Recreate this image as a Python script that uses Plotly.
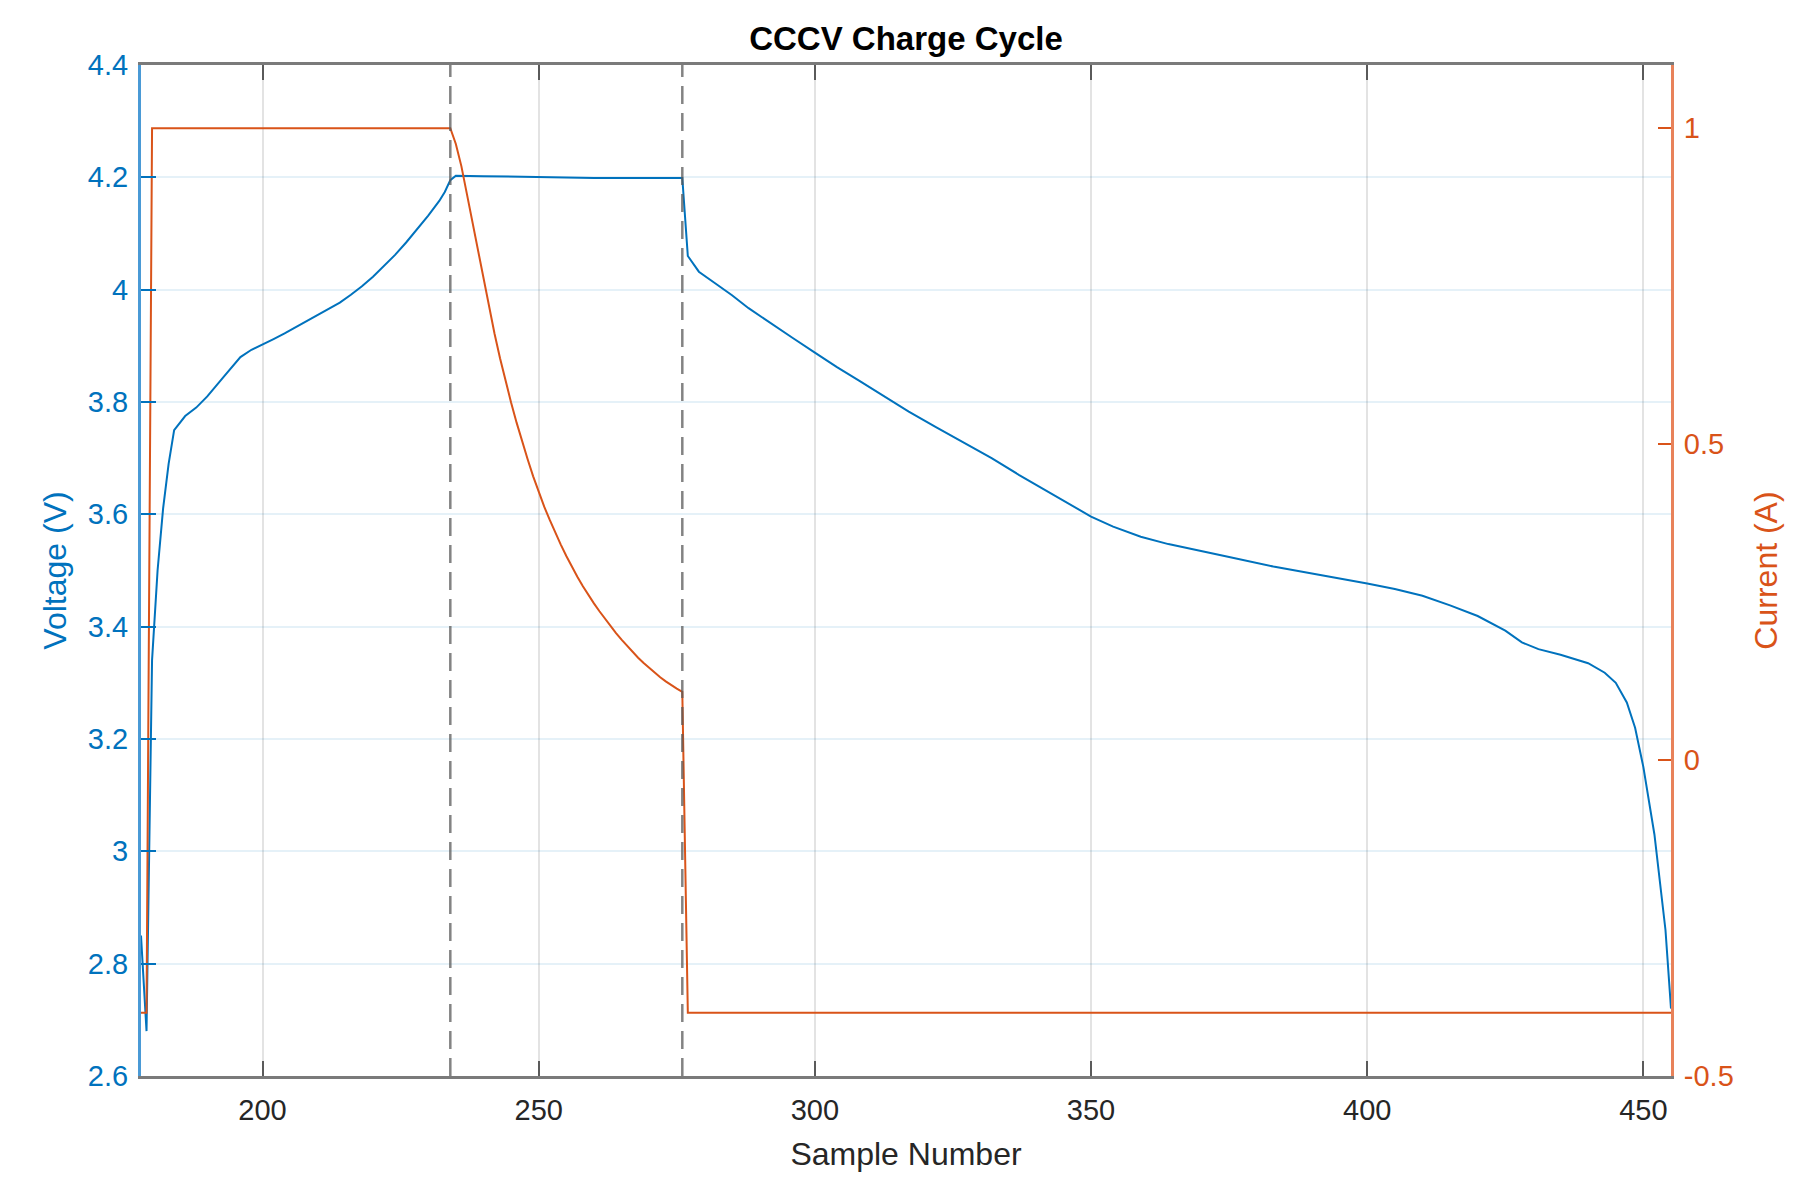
import plotly.graph_objects as go

# ---- data ----
voltage_sample = [178, 179, 180, 181, 182, 183, 184, 186, 188, 190, 193, 196, 198, 200, 202, 204,
                  206, 208, 210, 212, 214, 216, 218, 220, 222, 224, 226, 228, 230, 232, 233, 234,
                  235, 240, 245, 250, 260, 270, 276,
                  277, 279, 282, 285, 288, 292, 296, 300, 304, 308, 312, 317, 322, 327, 332, 337,
                  342, 347, 350, 354, 359, 364, 369, 375, 383, 390, 400, 405, 410, 415, 420, 425,
                  428, 431, 435, 440, 443, 445, 447, 448.5, 450, 452, 454, 455]
voltage_v = [2.85, 2.68, 3.34, 3.50, 3.61, 3.69, 3.75, 3.775, 3.79, 3.81, 3.845, 3.88, 3.893, 3.902,
             3.912, 3.922, 3.933, 3.943, 3.954, 3.965, 3.977, 3.991, 4.006, 4.023, 4.042, 4.062,
             4.084, 4.107, 4.132, 4.158, 4.174, 4.195,
             4.203, 4.202, 4.201, 4.2, 4.199, 4.199, 4.199,
             4.06, 4.032, 4.011, 3.99, 3.967, 3.94, 3.914, 3.888,
             3.862, 3.838, 3.813, 3.783, 3.755, 3.727, 3.70, 3.67, 3.642, 3.613, 3.596, 3.578, 3.560,
             3.547, 3.536, 3.524, 3.507, 3.495, 3.477, 3.467, 3.455, 3.438, 3.419, 3.393, 3.372, 3.36,
             3.35, 3.335, 3.318, 3.30, 3.265, 3.22, 3.15, 3.03, 2.86, 2.72]

current_sample = [178, 179, 180, 234, 235, 236, 237, 238, 239, 240, 241, 242, 243, 244, 245, 246,
                  247, 248, 249, 250, 251, 252, 253, 254, 255, 256, 257, 258, 259, 260, 261, 262,
                  263, 264, 265, 266, 267, 268, 269, 270, 271, 272, 273, 274, 275, 276, 277, 455]
current_a = [-0.4, -0.4, 1.0, 1.0, 0.975, 0.94, 0.896, 0.851, 0.805, 0.760, 0.716, 0.675, 0.636,
             0.600, 0.566, 0.534, 0.504, 0.476, 0.449, 0.424, 0.401, 0.380, 0.360, 0.341, 0.323,
             0.306, 0.290, 0.275, 0.261, 0.248, 0.2355, 0.2235, 0.212, 0.201, 0.1905, 0.1805, 0.171,
             0.162, 0.1535, 0.1455, 0.138, 0.131, 0.1245, 0.1185, 0.113, 0.108, -0.4, -0.4]

phase_boundaries = [234, 276]

x_ticks = [200, 250, 300, 350, 400, 450]
v_ticks = [2.6, 2.8, 3.0, 3.2, 3.4, 3.6, 3.8, 4.0, 4.2, 4.4]
v_tick_text = ["2.6", "2.8", "3", "3.2", "3.4", "3.6", "3.8", "4", "4.2", "4.4"]
i_ticks = [-0.5, 0, 0.5, 1]
i_tick_text = ["-0.5", "0", "0.5", "1"]

BLUE = "#0072BD"
ORANGE = "#D95319"
DARK = "#262626"
FONT = "Liberation Sans, Arial, sans-serif"

fig = go.Figure()
fig.add_trace(go.Scatter(x=current_sample, y=current_a, mode="lines", yaxis="y2",
                         line=dict(color=ORANGE, width=2), showlegend=False))
fig.add_trace(go.Scatter(x=voltage_sample, y=voltage_v, mode="lines", yaxis="y",
                         line=dict(color=BLUE, width=2), showlegend=False))

for xb in phase_boundaries:
    fig.add_shape(type="line", xref="x", yref="paper", x0=xb, x1=xb, y0=0, y1=1,
                  line=dict(color="rgba(90,90,90,0.75)", width=2.5, dash="18px,9px"), layer="above")

fig.update_layout(
    width=1801, height=1177,
    paper_bgcolor="white", plot_bgcolor="white",
    margin=dict(l=141, r=130, t=65, b=101, autoexpand=False),
    font=dict(family=FONT, size=29, color=DARK),
    title=dict(text="<b>CCCV Charge Cycle</b>", x=0.5, xref="paper", xanchor="center",
               y=1 - 38 / 1177, yref="container", yanchor="middle",
               font=dict(family=FONT, size=33, color="black")),
    xaxis=dict(range=[178, 455], tickvals=x_ticks, ticks="inside", ticklen=15, tickwidth=2,
               tickcolor="#5a5a5a", showline=True, linecolor="#7a7a7a", linewidth=2.5, mirror="ticks",
               showgrid=True, gridcolor="rgba(38,38,38,0.13)", gridwidth=2, zeroline=False,
               tickfont=dict(size=29, color=DARK), ticklabelstandoff=6,
               title=dict(text="Sample Number", font=dict(size=32, color=DARK), standoff=19)),
    yaxis=dict(range=[2.6, 4.4], tickvals=v_ticks, ticktext=v_tick_text, ticks="inside",
               ticklen=15, tickwidth=2, tickcolor=BLUE, showline=True, linecolor="#4a9ad6",
               linewidth=3, mirror=False, showgrid=True, gridcolor="rgba(0,114,189,0.10)",
               gridwidth=2, zeroline=False, tickfont=dict(size=29, color=BLUE), ticklabelstandoff=4,
               title=dict(text="Voltage (V)", font=dict(size=32, color=BLUE), standoff=12)),
    yaxis2=dict(range=[-0.5, 1.1], tickvals=i_ticks, ticktext=i_tick_text, overlaying="y",
                side="right", ticks="inside", ticklen=13, tickwidth=2, tickcolor=ORANGE,
                showline=True, linecolor="#e8825a", linewidth=3, showgrid=False, zeroline=False,
                tickfont=dict(size=29, color=ORANGE), ticklabelstandoff=4,
                title=dict(text="Current (A)", font=dict(size=32, color=ORANGE), standoff=22)),
)

fig.write_html("out.html")
